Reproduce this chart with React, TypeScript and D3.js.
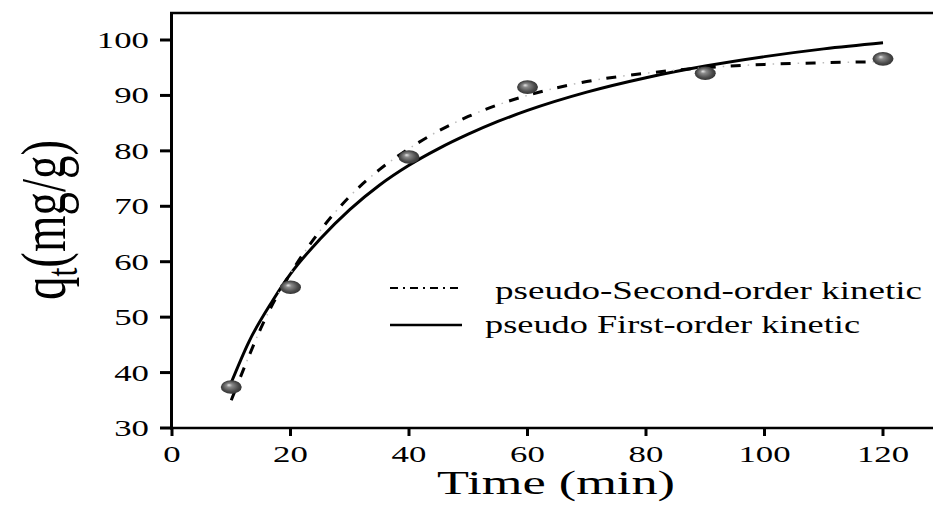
import React from "react";
import * as d3 from "d3";

// Experimental points
const expTime = [10, 20, 40, 60, 90, 120];
const expQ = [37.4, 55.4, 78.9, 91.5, 94.0, 96.6];

// Pseudo first-order curve
const pfoTime = [10, 13, 17, 20, 25, 30, 35, 40, 45, 50, 55, 60, 70, 80, 90, 100, 110, 120];
const pfoQ = [38.2, 45.6, 53.0, 57.8, 64.1, 69.4, 73.8, 77.4, 80.4, 83.0, 85.3, 87.3, 90.6, 93.2, 95.3, 97.0, 98.4, 99.5];

// Pseudo second-order curve
const psoTime = [10, 12.5, 15, 17.5, 20, 25, 30, 35, 40, 45, 50, 55, 60, 70, 80, 90, 100, 110, 120];
const psoQ = [35.0, 41.7, 48.0, 53.4, 57.9, 65.6, 71.8, 76.6, 80.4, 83.6, 86.2, 88.3, 90.0, 92.5, 94.0, 95.0, 95.6, 95.9, 96.1];

const xTicks = [0, 20, 40, 60, 80, 100, 120];
const yTicks = [30, 40, 50, 60, 70, 80, 90, 100];

const legendLabels = ["pseudo-Second-order kinetic", "pseudo First-order kinetic"];

const FONT = "Liberation Serif, Times New Roman, Times, serif";
const SX = 1.45;

export default function App() {
  const x = d3.scaleLinear().domain([0, 120]).range([172, 883]);
  const y = d3.scaleLinear().domain([30, 100]).range([428, 40]);

  const line = d3
    .line<[number, number]>()
    .x((d) => x(d[0]))
    .y((d) => y(d[1]))
    .curve(d3.curveMonotoneX);

  const pfo = line(pfoTime.map((t, i) => [t, pfoQ[i]]) as [number, number][]) || "";
  const pso = line(psoTime.map((t, i) => [t, psoQ[i]]) as [number, number][]) || "";

  return (
    <svg
      width={933}
      height={506}
      style={{ position: "absolute", left: 0, top: 0, background: "#fff", fontFamily: FONT }}
    >
      <defs>
        <radialGradient id="ball" cx="50%" cy="50%" r="55%" fx="38%" fy="35%">
          <stop offset="0%" stopColor="#e8e8e8" />
          <stop offset="25%" stopColor="#8a8a8a" />
          <stop offset="70%" stopColor="#4a4a4a" />
          <stop offset="100%" stopColor="#2e2e2e" />
        </radialGradient>
      </defs>
      <rect x={0} y={0} width={933} height={506} fill="#fff" />

      {/* frame: top line, left axis, bottom axis */}
      <line x1={170} x2={933} y1={13} y2={13} stroke="#000" strokeWidth={2.5} />
      <line x1={171.5} x2={171.5} y1={12} y2={429.5} stroke="#000" strokeWidth={3} />
      <line x1={170} x2={933} y1={428} y2={428} stroke="#000" strokeWidth={2.5} />

      {/* y ticks */}
      {yTicks.map((v) => (
        <g key={"y" + v}>
          <line x1={160} x2={171} y1={y(v)} y2={y(v)} stroke="#000" strokeWidth={3} />
          <text
            transform={`translate(149,${y(v) + 8}) scale(${SX},1)`}
            textAnchor="end"
            fontSize={24}
            fontFamily={FONT}
            fill="#000"
          >
            {v}
          </text>
        </g>
      ))}

      {/* x ticks */}
      {xTicks.map((v) => (
        <g key={"x" + v}>
          <line x1={x(v)} x2={x(v)} y1={428} y2={436} stroke="#000" strokeWidth={3} />
          <text
            transform={`translate(${x(v)},462) scale(${SX},1)`}
            textAnchor="middle"
            fontSize={24}
            fontFamily={FONT}
            fill="#000"
          >
            {v}
          </text>
        </g>
      ))}

      {/* axis titles */}
      <text
        x={556}
        y={494}
        fontSize={33}
        fontFamily={FONT}
        textAnchor="middle"
        textLength={238}
        lengthAdjust="spacingAndGlyphs"
      >
        Time (min)
      </text>
      <g transform={`translate(65,220) scale(${SX},1) rotate(-90)`}>
        <text
          x={0}
          y={0}
          fontSize={44}
          fontFamily={FONT}
          textAnchor="middle"
          textLength={160}
          lengthAdjust="spacingAndGlyphs"
        >
          q<tspan fontSize={30} dy={8}>t</tspan>
          <tspan dy={-8}>(mg/g)</tspan>
        </text>
      </g>

      {/* curves */}
      <path d={pfo} fill="none" stroke="#000" strokeWidth={3} />
      <path d={pso} fill="none" stroke="#000" strokeWidth={3} strokeDasharray="10 15" />
      <path d={pso} fill="none" stroke="#bbb" strokeWidth={1.5} strokeDasharray="0 17 1.5 6.5" />

      {/* markers */}
      {expTime.map((t, i) => (
        <ellipse key={"p" + i} cx={x(t)} cy={y(expQ[i])} rx={10.5} ry={6.8} fill="url(#ball)" />
      ))}

      {/* legend */}
      <line x1={390} x2={462} y1={288} y2={288} stroke="#000" strokeWidth={2} strokeDasharray="8 5 2 5" />
      <line x1={390} x2={462} y1={325} y2={325} stroke="#000" strokeWidth={2.5} />
      <text x={495} y={299} fontSize={25} fontFamily={FONT} textLength={427} lengthAdjust="spacingAndGlyphs">
        {legendLabels[0]}
      </text>
      <text x={485} y={333} fontSize={25} fontFamily={FONT} textLength={375} lengthAdjust="spacingAndGlyphs">
        {legendLabels[1]}
      </text>
    </svg>
  );
}
